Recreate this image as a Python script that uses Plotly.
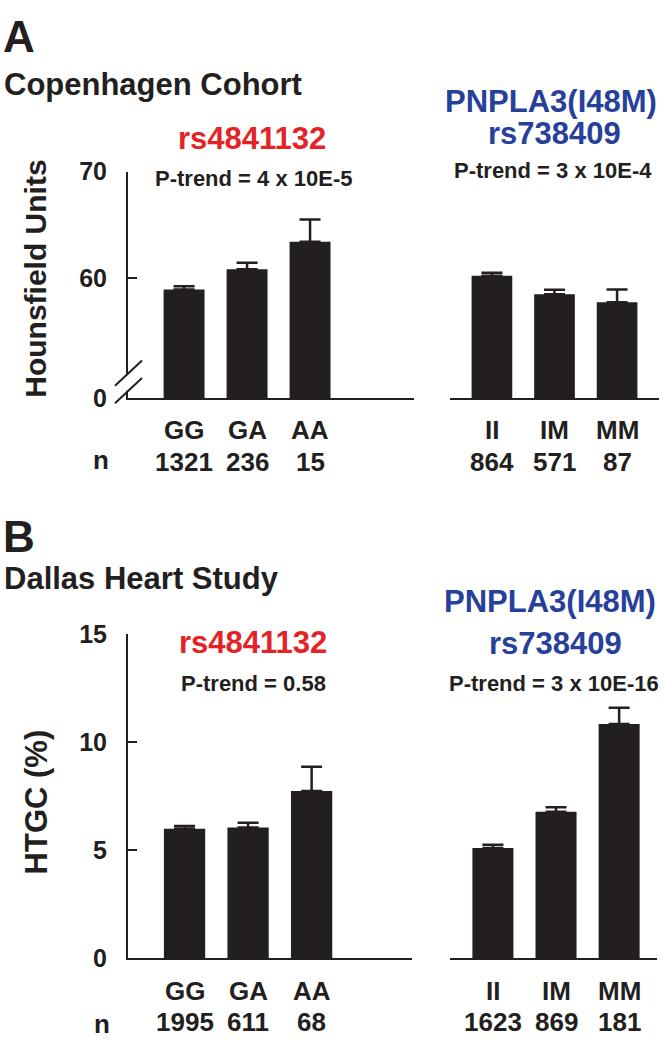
import plotly.graph_objects as go

# ---------------- data ----------------
genotypes_rs = ["GG", "GA", "AA"]
genotypes_pn = ["II", "IM", "MM"]

# Panel A: Copenhagen Cohort (Hounsfield Units)
cph_rs_mean = [58.9, 60.8, 63.4]
cph_rs_err = [0.3, 0.62, 2.1]
cph_rs_n = ["1321", "236", "15"]
cph_pn_mean = [60.2, 58.45, 57.7]
cph_pn_err = [0.28, 0.43, 1.2]
cph_pn_n = ["864", "571", "87"]

# Panel B: Dallas Heart Study (HTGC %)
dhs_rs_mean = [5.99, 6.04, 7.73]
dhs_rs_err = [0.12, 0.22, 1.13]
dhs_rs_n = ["1995", "611", "68"]
dhs_pn_mean = [5.10, 6.77, 10.84]
dhs_pn_err = [0.15, 0.21, 0.75]
dhs_pn_n = ["1623", "869", "181"]

cph_ticks = [60, 70]
dhs_ticks = [0, 5, 10, 15]

# ---------------- style ----------------
W, H = 664, 1050
FONT = "Liberation Sans, Arial, Helvetica, sans-serif"
INK = "#231f20"
RED = "#e32326"
BLUE = "#27409a"
BREAK_LOW = 48.62  # bottom of the broken axis (shown as "0")


def px(x):
    return x / W


def py(y):
    return 1 - y / H


fig = go.Figure()


def add_bars(cats, vals, errs, xa, ya):
    fig.add_trace(go.Bar(
        x=cats, y=vals, xaxis=xa, yaxis=ya, width=0.65,
        marker=dict(color=INK, line=dict(width=0)),
        error_y=dict(type="data", array=errs, symmetric=False,
                     arrayminus=[0] * len(errs), color=INK,
                     thickness=2.5, width=10.5),
        showlegend=False, hoverinfo="skip"))


add_bars(genotypes_rs, cph_rs_mean, cph_rs_err, "x", "y")
add_bars(genotypes_pn, cph_pn_mean, cph_pn_err, "x2", "y2")
add_bars(genotypes_rs, dhs_rs_mean, dhs_rs_err, "x3", "y3")
add_bars(genotypes_pn, dhs_pn_mean, dhs_pn_err, "x4", "y4")

xbase = dict(showline=True, linewidth=2, linecolor=INK, ticks="",
             showticklabels=False, showgrid=False, zeroline=False,
             fixedrange=True, type="category")
ybase = dict(showline=True, linewidth=2, linecolor=INK, ticks="inside",
             ticklen=9, tickwidth=2, tickcolor=INK, showgrid=False,
             zeroline=False, fixedrange=True,
             tickfont=dict(family=FONT, size=25, color=INK, weight="bold"),
             ticklabelstandoff=14)

yA = [py(395), py(162)]
yB = [py(970), py(637)]

fig.update_layout(
    width=W, height=H, autosize=False,
    margin=dict(l=0, r=0, t=0, b=0),
    paper_bgcolor="white", plot_bgcolor="white",
    xaxis=dict(xbase, domain=[px(128), px(414)], range=[-0.89, 3.65], anchor="y"),
    yaxis=dict(ybase, domain=yA, range=[BREAK_LOW, 70], anchor="x",
               tickvals=[BREAK_LOW] + cph_ticks,
               ticktext=["0"] + [str(t) for t in cph_ticks]),
    xaxis2=dict(xbase, domain=[px(450), px(659)], range=[-0.67, 2.67], anchor="y2"),
    yaxis2=dict(domain=yA, range=[BREAK_LOW, 70], anchor="x2", visible=False,
                fixedrange=True),
    xaxis3=dict(xbase, domain=[px(128), px(412)], range=[-0.89, 3.58], anchor="y3"),
    yaxis3=dict(ybase, domain=yB, range=[0, 15], anchor="x3",
                tickvals=dhs_ticks, ticktext=[str(t) for t in dhs_ticks]),
    xaxis4=dict(xbase, domain=[px(450), px(657)], range=[-0.68, 2.6], anchor="y4"),
    yaxis4=dict(domain=yB, range=[0, 15], anchor="x4", visible=False,
                fixedrange=True),
)

ann = []


def txt(text, x, y, size, color=INK, xanchor="center", angle=0, xref="paper"):
    ann.append(dict(text=text, x=x, y=y, xref=xref, yref="paper",
                    xanchor=xanchor, yanchor="middle", showarrow=False,
                    textangle=angle,
                    font=dict(family=FONT, size=size, color=color, weight="bold")))


# panel letters and titles
txt("A", px(1), py(23), 44, xanchor="left")
txt("Copenhagen Cohort", px(2), py(72.5), 31, xanchor="left")
txt("B", px(1), py(537), 44, xanchor="left")
txt("Dallas Heart Study", px(2), py(579.5), 31, xanchor="left")

# panel A headers
txt("rs4841132", px(252), py(127.5), 31, RED)
txt("P-trend = 4 x 10E-5", px(253.5), py(169), 22)
txt("PNPLA3(I48M)", px(550.5), py(90), 31, BLUE)
txt("rs738409", px(554), py(123), 31, BLUE)
txt("P-trend = 3 x 10E-4", px(553), py(161), 22)

# panel B headers
txt("rs4841132", px(252.5), py(646), 31, RED)
txt("P-trend = 0.58", px(253.5), py(688), 22)
txt("PNPLA3(I48M)", px(550), py(604), 31, BLUE)
txt("rs738409", px(555), py(647), 31, BLUE)
txt("P-trend = 3 x 10E-16", px(554), py(688), 22)

# y-axis titles
txt("Hounsfield Units", px(36), py(272), 30, angle=-90)
txt("HTGC (%)", px(36), py(810), 31, angle=-90)

# genotype and n rows
rows = [
    (genotypes_rs, cph_rs_n, "x", 427.5, 460),
    (genotypes_pn, cph_pn_n, "x2", 427.5, 460),
    (genotypes_rs, dhs_rs_n, "x3", 1004, 1036),
    (genotypes_pn, dhs_pn_n, "x4", 1004, 1036),
]
for cats, ns, xr, ycat, yn in rows:
    for c, n in zip(cats, ns):
        txt(c, c, py(ycat), 26, xref=xr)
        txt(n, c, py(yn), 26, xref=xr)
txt("n", px(101), py(458.5), 26)
txt("n", px(101.5), py(1037.5), 26)

fig.update_layout(annotations=ann)

# axis break marks on panel A
shapes = [
    dict(type="rect", xref="paper", yref="paper",
         x0=px(124), x1=px(132), y0=py(387), y1=py(370),
         fillcolor="white", line=dict(width=0), layer="above"),
    dict(type="line", xref="paper", yref="paper",
         x0=px(115), y0=py(382), x1=px(142), y1=py(356),
         line=dict(color=INK, width=2), layer="above"),
    dict(type="line", xref="paper", yref="paper",
         x0=px(115), y0=py(400), x1=px(142), y1=py(374),
         line=dict(color=INK, width=2), layer="above"),
]
fig.update_layout(shapes=shapes)

fig.write_html(
    "out.html",
    config={"displayModeBar": False},
    post_script=(
        "document.documentElement.style.margin='0';"
        "document.body.style.margin='0';"
        "document.body.style.overflow='hidden';"
    ),
)
